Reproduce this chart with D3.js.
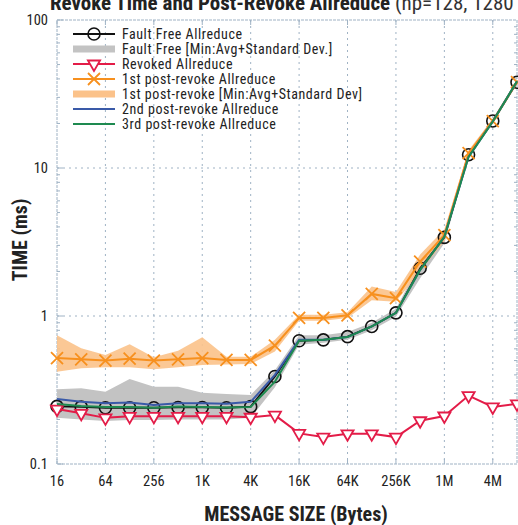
<!DOCTYPE html>
<html><head><meta charset="utf-8">
<script src="https://cdn.jsdelivr.net/npm/d3@7"></script>
<style>
body{margin:0;background:#fff;}
svg{display:block;font-family:"Liberation Sans Narrow","Arial Narrow","Roboto Condensed","Liberation Sans",sans-serif;}
</style></head>
<body><svg id="c" width="518" height="525"></svg>
<script>
const sizes = [16,32,64,128,256,512,1024,2048,4096,8192,16384,32768,65536,131072,262144,524288,1048576,2097152,4194304,8388608];
const tickValues = [16,64,256,1024,4096,16384,65536,262144,1048576,4194304];
const tickLabels = ["16","64","256","1K","4K","16K","64K","256K","1M","4M"];
const yTicks = [0.1,1,10,100];
const yTickLabels = ["0.1","1","10","100"];

const faultFree = [0.245,0.243,0.240,0.240,0.240,0.241,0.241,0.240,0.244,0.39,0.68,0.69,0.725,0.85,1.05,2.1,3.4,12.3,20.8,38];
const faultFreeMin = [0.205,0.2,0.195,0.198,0.198,0.2,0.2,0.2,0.205,0.33,0.64,0.66,0.69,0.8,0.99,1.8,3.1,11.8,20.0,37];
const faultFreeMax = [0.32,0.325,0.308,0.375,0.333,0.333,0.303,0.297,0.293,0.43,0.74,0.74,0.78,0.9,1.12,2.3,3.7,12.9,21.6,39.5];
const revoked = [0.235,0.22,0.205,0.21,0.21,0.21,0.21,0.21,0.207,0.214,0.161,0.152,0.16,0.16,0.152,0.196,0.211,0.29,0.243,0.255];
const post1 = [0.52,0.51,0.50,0.515,0.50,0.51,0.52,0.505,0.505,0.63,0.97,0.97,1.01,1.41,1.32,2.33,3.52,12.6,20.7,38];
const post1Min = [0.42,0.443,0.45,0.45,0.437,0.45,0.466,0.47,0.474,0.575,0.93,0.93,0.97,1.28,1.25,2.0,3.2,12.0,20.0,37];
const post1Max = [0.74,0.605,0.545,0.644,0.526,0.583,0.718,0.53,0.53,0.69,1.02,1.02,1.06,1.58,1.45,2.6,3.85,13.2,21.5,39.5];
const post2 = [0.275,0.263,0.257,0.26,0.25,0.257,0.257,0.255,0.263,0.40,0.69,0.69,0.72,0.85,1.05,2.05,3.43,11.9,20.6,38.5];
const post3 = [0.254,0.247,0.243,0.243,0.24,0.245,0.243,0.241,0.243,0.36,0.68,0.69,0.72,0.85,1.05,2.05,3.43,11.9,20.6,38.5];

const legendLabels = ["Fault Free Allreduce","Fault Free [Min:Avg+Standard Dev.]","Revoked Allreduce","1st post-revoke Allreduce","1st post-revoke [Min:Avg+Standard Dev]","2nd post-revoke Allreduce","3rd post-revoke Allreduce"];

const C = {black:"#111", grey:"#c3c3c3", red:"#e31c48", orange:"#f7901e", orangeBand:"#fbc28a", blue:"#3a5aa8", green:"#1e8a50", frame:"#9fb2c4"};

const svg = d3.select("#c");
const L=57, R=517, T=20, B=464;
const x = d3.scaleLog().base(2).domain([16,8388608]).range([L,R]);
const y = d3.scaleLog().domain([0.1,100]).range([B,T]);

// title (cut off at top, as in the reference)
const title = svg.append("text").attr("x",50).attr("y",10).attr("font-size",21);
title.append("tspan").attr("font-weight","bold").attr("fill","#222").text("Revoke Time and Post-Revoke Allreduce ");
title.append("tspan").attr("font-weight","normal").attr("fill","#333").text("(np=128, 1280 cores)");

// grid
const g = svg.append("g");
g.selectAll(".vg").data(tickValues.slice(1)).join("line")
 .attr("x1",d=>x(d)).attr("x2",d=>x(d)).attr("y1",T).attr("y2",B)
 .attr("stroke",C.frame).attr("stroke-dasharray","2,4").attr("stroke-width",1);
g.selectAll(".hg").data([1,10]).join("line")
 .attr("x1",L).attr("x2",R).attr("y1",d=>y(d)).attr("y2",d=>y(d))
 .attr("stroke",C.frame).attr("stroke-dasharray","2,4").attr("stroke-width",1);
// frame
g.append("rect").attr("x",L).attr("y",T).attr("width",R-L).attr("height",B-T)
 .attr("fill","none").attr("stroke",C.frame).attr("stroke-dasharray","3,1").attr("stroke-width",1);
// minor y ticks
const minor=[];
[0.1,1,10].forEach(dec=>{for(let k=2;k<=9;k++) minor.push(dec*k);});
g.selectAll(".my").data(minor).join("line")
 .attr("x1",L).attr("x2",L+3).attr("y1",d=>y(d)).attr("y2",d=>y(d)).attr("stroke",C.frame);
g.selectAll(".myr").data(minor).join("line")
 .attr("x1",R).attr("x2",R-3).attr("y1",d=>y(d)).attr("y2",d=>y(d)).attr("stroke",C.frame);
g.selectAll(".My").data(yTicks).join("line")
 .attr("x1",L).attr("x2",L+6).attr("y1",d=>y(d)).attr("y2",d=>y(d)).attr("stroke",C.frame);
g.selectAll(".tx").data(tickValues).join("line")
 .attr("x1",d=>x(d)).attr("x2",d=>x(d)).attr("y1",T).attr("y2",T+5).attr("stroke",C.frame);
g.selectAll(".bx").data(tickValues).join("line")
 .attr("x1",d=>x(d)).attr("x2",d=>x(d)).attr("y1",B).attr("y2",B-5).attr("stroke",C.frame);

// axes labels
svg.append("g").selectAll("text").data(yTicks).join("text")
 .attr("x",48).attr("y",d=>y(d)).attr("dy","0.35em").attr("text-anchor","end")
 .attr("font-size",14.5).attr("fill","#222").text((d,i)=>yTickLabels[i]);
svg.append("g").selectAll("text").data(tickValues).join("text")
 .attr("x",d=>x(d)).attr("y",481).attr("dy","0.35em").attr("text-anchor","middle")
 .attr("font-size",14.5).attr("fill","#222").text((d,i)=>tickLabels[i]);
svg.append("text").attr("x",296).attr("y",521).attr("text-anchor","middle")
 .attr("font-size",20).attr("font-weight","bold").attr("fill","#222").text("MESSAGE SIZE (Bytes)");
svg.append("text").attr("transform","translate(27,240) rotate(-90)").attr("text-anchor","middle")
 .attr("font-size",20).attr("font-weight","bold").attr("fill","#222").text("TIME (ms)");

const plot = svg.append("g");

const area = (lo,hi)=>d3.area().x((d,i)=>x(sizes[i])).y0((d,i)=>y(lo[i])).y1((d,i)=>y(hi[i]));
plot.append("path").datum(sizes).attr("d",area(faultFreeMin,faultFreeMax)).attr("fill",C.grey);
plot.append("path").datum(sizes).attr("d",area(post1Min,post1Max)).attr("fill",C.orangeBand).attr("opacity",0.9);

const line = d3.line().x((d,i)=>x(sizes[i])).y(d=>y(d));
function drawLine(data,color,w){plot.append("path").datum(data).attr("d",line).attr("fill","none").attr("stroke",color).attr("stroke-width",w);}

drawLine(faultFree,C.black,1.8);
plot.selectAll(".ffm").data(faultFree).join("circle")
 .attr("cx",(d,i)=>x(sizes[i])).attr("cy",d=>y(d)).attr("r",6).attr("fill","none").attr("stroke",C.black).attr("stroke-width",1.6);

drawLine(revoked,C.red,2);
const tri = d3.symbol().type(d3.symbolTriangle).size(64);
plot.selectAll(".rm").data(revoked).join("path")
 .attr("d",tri).attr("transform",(d,i)=>`translate(${x(sizes[i])},${y(d)}) rotate(180)`)
 .attr("fill","#fff").attr("stroke",C.red).attr("stroke-width",1.8);

drawLine(post1,C.orange,2);
const xs = 6;
plot.selectAll(".om").data(post1).join("path")
 .attr("d",(d,i)=>{const cx=x(sizes[i]),cy=y(d);return `M${cx-xs},${cy-xs}L${cx+xs},${cy+xs}M${cx-xs},${cy+xs}L${cx+xs},${cy-xs}`;})
 .attr("stroke",C.orange).attr("stroke-width",1.8).attr("fill","none");

drawLine(post2,C.blue,2);
drawLine(post3,C.green,2);

// legend
const lg = svg.append("g");
const rowY = d => 34 + d*15;
const lx1=73, lx2=115, tx=122;
legendLabels.forEach((t,i)=>{
  lg.append("text").attr("x",tx).attr("y",rowY(i)).attr("dy","0.35em").attr("font-size",14)
    .attr("letter-spacing","0.55").attr("fill","#222").text(t);
});
lg.append("line").attr("x1",lx1).attr("x2",lx2).attr("y1",rowY(0)).attr("y2",rowY(0)).attr("stroke",C.black).attr("stroke-width",1.8);
lg.append("circle").attr("cx",(lx1+lx2)/2).attr("cy",rowY(0)).attr("r",6).attr("fill","none").attr("stroke",C.black).attr("stroke-width",1.6);
lg.append("rect").attr("x",lx1).attr("y",rowY(1)-3.5).attr("width",lx2-lx1).attr("height",7).attr("fill",C.grey);
lg.append("line").attr("x1",lx1).attr("x2",lx2).attr("y1",rowY(2)).attr("y2",rowY(2)).attr("stroke",C.red).attr("stroke-width",2);
lg.append("path").attr("d",tri).attr("transform",`translate(${(lx1+lx2)/2},${rowY(2)}) rotate(180)`).attr("fill","#fff").attr("stroke",C.red).attr("stroke-width",1.8);
lg.append("line").attr("x1",lx1).attr("x2",lx2).attr("y1",rowY(3)).attr("y2",rowY(3)).attr("stroke",C.orange).attr("stroke-width",2);
{const cx=(lx1+lx2)/2,cy=rowY(3);lg.append("path").attr("d",`M${cx-xs},${cy-xs}L${cx+xs},${cy+xs}M${cx-xs},${cy+xs}L${cx+xs},${cy-xs}`).attr("stroke",C.orange).attr("stroke-width",1.8);}
lg.append("rect").attr("x",lx1).attr("y",rowY(4)-3.5).attr("width",lx2-lx1).attr("height",7).attr("fill",C.orangeBand);
lg.append("line").attr("x1",lx1).attr("x2",lx2).attr("y1",rowY(5)).attr("y2",rowY(5)).attr("stroke",C.blue).attr("stroke-width",2);
lg.append("line").attr("x1",lx1).attr("x2",lx2).attr("y1",rowY(6)).attr("y2",rowY(6)).attr("stroke",C.green).attr("stroke-width",2);
</script></body></html>
